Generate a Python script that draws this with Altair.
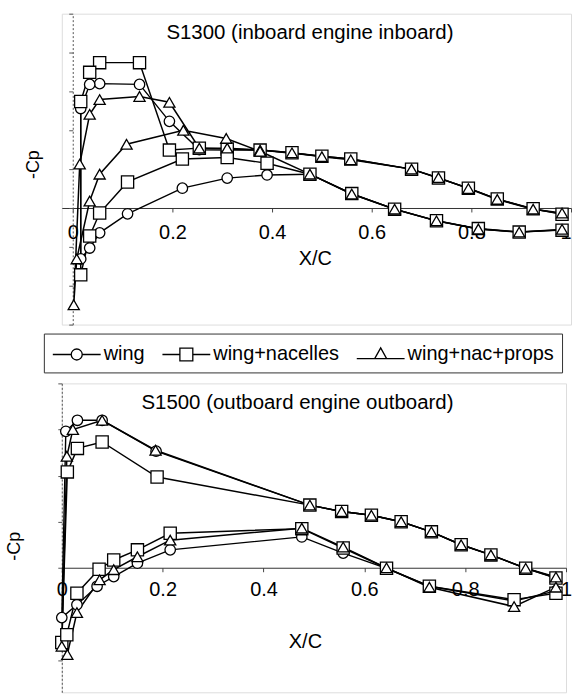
import altair as alt
import pandas as pd

FONT = "Liberation Sans"
SERIES = ["wing", "wing+nacelles", "wing+nac+props"]
MARKERS = ["circle", "square", "triangle-up"]
MARKER_SIZES = [110, 150, 125]
LINE_WIDTHS = [1.4, 1.5, 1.0]
X_TICKS = [0, 0.2, 0.4, 0.6, 0.8, 1.0]

# legend symbols: short line with the marker in the middle (custom SVG paths)
LEGEND_SYMBOLS = [
    "M-1,0L0.54,0M1.46,0L3,0M0.54,0A0.46,0.46,0,1,1,1.46,0A0.46,0.46,0,1,1,0.54,0Z",
    "M-1,0L0.46,0M1.54,0L3,0M0.46,-0.54L1.54,-0.54L1.54,0.54L0.46,0.54Z",
    "M-1,0.35L0.5,0.35M1.5,0.35L3,0.35M1,-0.55L1.5,0.35L0.5,0.35Z",
]

# ---------------- S1300 (inboard engine inboard) ----------------
s1300_wing_x = [0.982, 0.924, 0.852, 0.794, 0.734, 0.680, 0.558, 0.500, 0.440, 0.376, 0.310, 0.254, 0.194,
                0.134, 0.054, 0.034, 0.016, 0.016, 0.034, 0.054, 0.110, 0.220, 0.310, 0.390, 0.476, 0.560,
                0.646, 0.730, 0.814, 0.896, 0.982]
s1300_wing_y = [-0.15, -0.03, 0.23, 0.51, 0.77, 1.00, 1.26, 1.33, 1.41, 1.49, 1.49, 1.50, 2.23,
                3.18, 3.20, 3.18, 2.56, -1.31, -1.03, -0.64, -0.15, 0.51, 0.77, 0.85, 0.87, 0.36,
                -0.03, -0.33, -0.54, -0.62, -0.56]
s1300_nac_x = [0.982, 0.924, 0.852, 0.794, 0.734, 0.680, 0.558, 0.500, 0.440, 0.376, 0.310, 0.254, 0.194,
               0.134, 0.054, 0.034, 0.016, 0.016, 0.034, 0.054, 0.110, 0.220, 0.310, 0.390, 0.476, 0.560,
               0.646, 0.730, 0.814, 0.896, 0.982]
s1300_nac_y = [-0.16, -0.02, 0.23, 0.51, 0.77, 1.00, 1.26, 1.33, 1.42, 1.49, 1.52, 1.54, 1.49,
               3.74, 3.74, 3.49, 2.74, -1.72, -0.72, -0.13, 0.67, 1.26, 1.30, 1.15, 0.87, 0.37,
               -0.03, -0.33, -0.53, -0.62, -0.57]
s1300_props_x = [0.982, 0.924, 0.852, 0.794, 0.734, 0.680, 0.558, 0.500, 0.440, 0.376, 0.310, 0.254, 0.194,
                 0.134, 0.054, 0.034, 0.014, 0.002, 0.008, 0.034, 0.054, 0.108, 0.222, 0.308, 0.376, 0.476,
                 0.560, 0.646, 0.730, 0.814, 0.896, 0.982]
s1300_props_y = [-0.13, -0.03, 0.22, 0.50, 0.78, 1.00, 1.24, 1.32, 1.42, 1.49, 1.54, 1.54, 2.72,
                 2.87, 2.79, 2.41, 1.13, -2.49, -1.31, 0.18, 0.87, 1.64, 2.00, 1.79, 1.46, 0.87,
                 0.36, -0.03, -0.33, -0.54, -0.62, -0.55]

# ---------------- S1500 (outboard engine outboard) ----------------
s1500_wing_x = [0.980, 0.920, 0.851, 0.792, 0.733, 0.673, 0.614, 0.555, 0.492, 0.187, 0.080, 0.031, 0.008,
                0.000, 0.030, 0.070, 0.103, 0.150, 0.215, 0.476, 0.558, 0.644, 0.729, 0.897, 0.980]
s1500_wing_y = [-0.22, -0.01, 0.28, 0.50, 0.78, 1.00, 1.14, 1.22, 1.36, 2.53, 3.20, 3.20, 2.96,
                -1.08, -0.80, -0.40, -0.19, 0.10, 0.39, 0.67, 0.32, -0.01, -0.40, -0.72, -0.50]
s1500_nac_x = [0.980, 0.920, 0.851, 0.792, 0.733, 0.673, 0.614, 0.555, 0.492, 0.189, 0.080, 0.031, 0.011,
               0.000, 0.010, 0.030, 0.074, 0.103, 0.150, 0.215, 0.476, 0.558, 0.644, 0.729, 0.897, 0.980]
s1500_nac_y = [-0.22, -0.01, 0.28, 0.50, 0.78, 1.00, 1.14, 1.22, 1.36, 1.97, 2.73, 2.59, 2.08,
               -1.62, -1.45, -0.55, -0.03, 0.17, 0.39, 0.75, 0.85, 0.43, -0.01, -0.40, -0.69, -0.55]
s1500_props_x = [0.980, 0.920, 0.851, 0.792, 0.733, 0.673, 0.614, 0.555, 0.492, 0.186, 0.080, 0.022, 0.010,
                 0.000, 0.011, 0.030, 0.075, 0.103, 0.150, 0.215, 0.476, 0.558, 0.644, 0.729, 0.897, 0.980]
s1500_props_y = [-0.20, -0.01, 0.28, 0.50, 0.78, 1.00, 1.14, 1.22, 1.36, 2.55, 3.20, 3.00, 2.42,
                 -1.70, -1.88, -0.97, -0.26, -0.04, 0.24, 0.60, 0.86, 0.45, 0.00, -0.42, -0.84, -0.42]


def make_frame(pairs):
    rows = []
    for name, (xs, ys) in zip(SERIES, pairs):
        for i, (xv, yv) in enumerate(zip(xs, ys)):
            rows.append({"series": name, "idx": i, "x": xv, "y": yv})
    return pd.DataFrame(rows)


top_df = make_frame([(s1300_wing_x, s1300_wing_y), (s1300_nac_x, s1300_nac_y),
                     (s1300_props_x, s1300_props_y)])
bot_df = make_frame([(s1500_wing_x, s1500_wing_y), (s1500_nac_x, s1500_nac_y),
                     (s1500_props_x, s1500_props_y)])


def panel(df, title, title_dx, title_offset, x_domain, width, height, y_domain, y_ticks,
          x_offset, y_offset, label_pad, xtitle_pad, xtitle_x, flush, ytitle_x, ytitle_y,
          with_legend):
    x_enc = alt.X(
        "x:Q",
        scale=alt.Scale(domain=x_domain, nice=False, zero=False),
        axis=alt.Axis(values=X_TICKS, format="~g", offset=x_offset, grid=False,
                      tickSize=4, tickColor="#444", domainColor="#333", domainWidth=1,
                      labelFontSize=20, labelFont=FONT, labelColor="black",
                      labelPadding=label_pad, labelFlush=flush, labelOverlap=False,
                      title="X/C", titleFont=FONT, titleFontSize=20, titleFontWeight="normal",
                      titleColor="black", titlePadding=xtitle_pad, titleX=xtitle_x),
    )
    y_enc = alt.Y(
        "y:Q",
        scale=alt.Scale(domain=y_domain, nice=False, zero=False),
        axis=alt.Axis(values=y_ticks, labels=False, grid=False, offset=y_offset,
                      tickSize=4, tickColor="#555", domainColor="#555", domainDash=[2, 2],
                      title="-Cp", titleFont=FONT, titleFontSize=18, titleFontWeight="normal",
                      titleColor="black", titleX=ytitle_x, titleY=ytitle_y,
                      titleAngle=270, titleBaseline="bottom", titleAlign="center"),
    )
    base = alt.Chart(df).encode(x=x_enc, y=y_enc)
    lines = base.mark_line(color="black").encode(
        detail="series:N",
        order="idx:Q",
        strokeWidth=alt.StrokeWidth("series:N",
                                    scale=alt.Scale(domain=SERIES, range=LINE_WIDTHS),
                                    legend=None),
    )
    layers = [lines]
    for name, shp, sz in zip(SERIES, MARKERS, MARKER_SIZES):
        layers.append(
            base.transform_filter(alt.datum.series == name).mark_point(
                shape=shp, size=sz, filled=True, fill="white", stroke="black",
                strokeWidth=1.3, opacity=1)
        )
    if with_legend:
        layers.append(
            base.transform_filter("datum.x > 10").mark_point(
                filled=False, color="black", opacity=1, strokeWidth=1.3).encode(
                shape=alt.Shape("series:N",
                                scale=alt.Scale(domain=SERIES, range=LEGEND_SYMBOLS),
                                legend=alt.Legend(
                                    title=None, orient="none", legendX=-18, legendY=321,
                                    direction="horizontal", symbolSize=576,
                                    symbolStrokeColor="black", symbolStrokeWidth=1.3,
                                    symbolOpacity=1, labelFont=FONT, labelFontSize=20,
                                    labelColor="black", labelOffset=26, columnPadding=14,
                                    padding=8, strokeColor="#333", labelLimit=400)))
        )
    return alt.layer(*layers).properties(
        width=width, height=height,
        title=alt.TitleParams(title, font=FONT, fontSize=20.5, fontWeight="normal",
                              color="black", anchor="middle", frame="group",
                              baseline="middle", offset=title_offset, dx=title_dx),
    )


top = panel(top_df, "S1300 (inboard engine inboard)", -6.5, -40,
            [-0.022, 1.0], 511, 312, [-3, 5], list(range(-3, 6)),
            -117, -11, 11, 6, 254, True, -30, 151, True)
bottom = panel(bot_df, "S1500 (outboard engine outboard)", -16.5, -41,
               [0.0, 1.0], 506, 310, [-2.7, 4], list(range(-2, 5)),
               -125, 0, 8, 32, 244, False, -38, 163, False)

chart = (
    alt.vconcat(top, bottom, spacing=9)
    .resolve_scale(shape="independent", x="independent", y="independent")
    .resolve_legend(shape="independent")
    .properties(padding={"left": 5, "top": 11.5, "right": 1, "bottom": 6.5})
    .configure_view(stroke=None)
    .configure(font=FONT)
)

chart.save("out.html", embed_options={"renderer": "svg", "actions": False})
